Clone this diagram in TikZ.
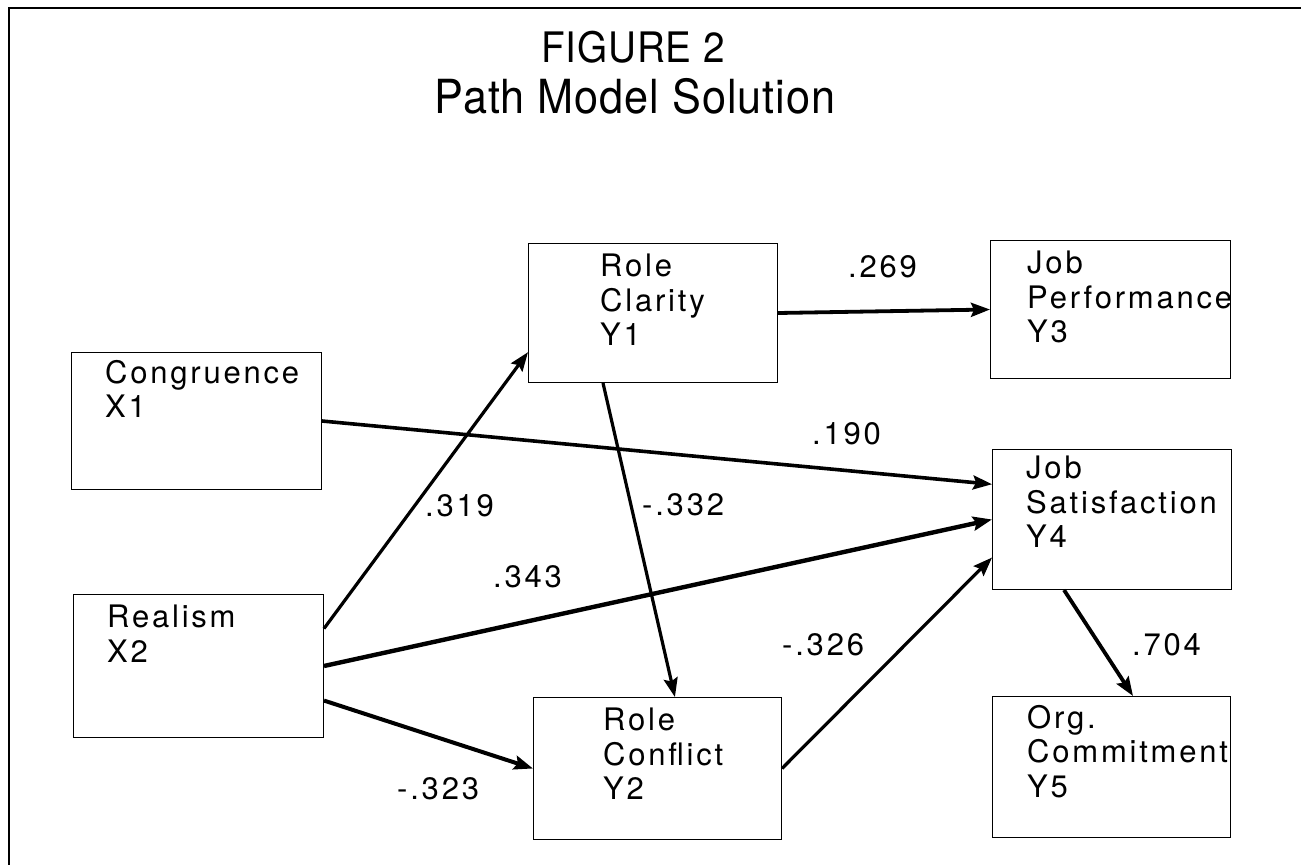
\documentclass[tikz,border=0pt]{standalone}
\usepackage{fontspec}
\setmainfont{TeX Gyre Heros}
\newfontfamily\boxfont[LetterSpace=9]{TeX Gyre Heros}
\newfontfamily\ttlfont[LetterSpace=2,FakeStretch=0.92]{TeX Gyre Heros}
\usetikzlibrary{calc,arrows.meta}

\begin{document}
\begin{tikzpicture}[x=1pt,y=-1pt,
    var/.style={draw,line width=1pt,anchor=north west,inner sep=0pt},
    txt/.style={anchor=north west,align=left,inner sep=0pt,font=\boxfont\fontsize{31}{34.5}\selectfont},
    coef/.style={anchor=base west,inner sep=0pt,font=\boxfont\fontsize{31}{34}\selectfont},
    path/.style={line width=3.2pt,-{Stealth[length=19pt,width=14pt,inset=3pt]}}]
                    \useasboundingbox (0,0) rectangle (1301,865);
                    \draw[line width=2pt] (1301,8)--(9,8)--(9,865);

                    \node[anchor=base,font=\ttlfont\fontsize{42}{46}\selectfont] (fig) at (633,62) {FIGURE 2};
                    \node[anchor=base,font=\ttlfont\fontsize{47}{50}\selectfont] (ttl) at (635,113) {Path Model Solution};

                    % exogenous
                    \node[var,minimum width=250pt,minimum height=137pt,label={[txt,xshift=34pt,yshift=-8pt]north west:{Congruence\\X1}}] (x1) at (71,352) {};
                    \node[var,minimum width=250pt,minimum height=143pt,label={[txt,xshift=34pt,yshift=-11pt]north west:{Realism\\X2}}] (x2) at (73,594) {};

                    % endogenous
                    \node[var,minimum width=249pt,minimum height=139pt,label={[txt,xshift=72pt,yshift=-11pt]north west:{Role\\Clarity\\Y1}}] (y1) at (528,243) {};
                    \node[var,minimum width=248pt,minimum height=142pt,label={[txt,xshift=70pt,yshift=-11pt]north west:{Role\\Conflict\\Y2}}] (y2) at (533,697) {};
                    \node[var,minimum width=240pt,minimum height=138pt,label={[txt,xshift=37pt,yshift=-11pt]north west:{Job\\Performance\\Y3}}] (y3) at (990,240) {};
                    \node[var,minimum width=239pt,minimum height=140pt,label={[txt,xshift=34pt,yshift=-7pt]north west:{Job\\Satisfaction\\Y4}}] (y4) at (992,449) {};
                    \node[var,minimum width=238pt,minimum height=141pt,label={[txt,xshift=35pt,yshift=-9pt]north west:{Org.\\Commitment\\Y5}}] (y5) at (992,696) {};

                    \draw[path,line width=3.8pt] (y1.east)--(y3.west);
                    \draw[path,line width=3.6pt] (x1.east)--($(y4.north west)!0.25!(y4.south west)$);
                    \draw[path,line width=4.4pt] (x2.east)--(y4.west);
                    \draw[path] (y2.east)--($(y4.north west)!0.77!(y4.south west)$);
                    \draw[path] ($(x2.north east)!0.24!(x2.south east)$)--($(y1.north west)!0.78!(y1.south west)$);
                    \draw[path,line width=4pt] ($(x2.north east)!0.74!(x2.south east)$)--(y2.west);
                    \draw[path] ($(y1.south west)!0.30!(y1.south east)$)--($(y2.north west)!0.57!(y2.north east)$);
                    \draw[path,line width=3.8pt] ($(y4.south west)!0.30!(y4.south east)$)--($(y5.north west)!0.59!(y5.north east)$);

                    \node[coef] (c13) at (848,277) {.269};
                    \node[coef] (c14) at (812,444) {.190};
                    \node[coef] (c21) at (425,516) {.319};
                    \node[coef] (c12) at (642,515) {-.332};
                    \node[coef] (c24) at (493,587) {.343};
                    \node[coef] (c44) at (782,655) {-.326};
                    \node[coef] (c45) at (1132,655) {.704};
                    \node[coef] (c22) at (397,799) {-.323};
\end{tikzpicture}
\end{document}
